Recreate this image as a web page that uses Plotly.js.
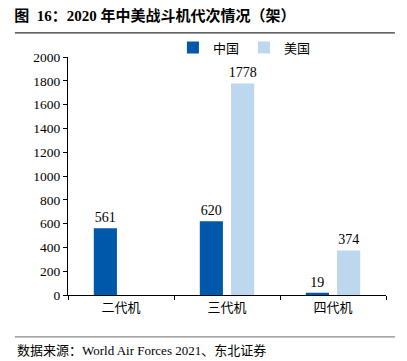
<!DOCTYPE html>
<html>
<head>
<meta charset="utf-8">
<script src="https://cdn.plot.ly/plotly-3.0.1.min.js"></script>
<style>html,body{margin:0;padding:0;background:#fff;}#chart{width:407px;height:361px;}</style>
</head>
<body>
<div id="chart"></div>
<script>
const categories = ['二代机', '三代机', '四代机'];
const chinaValues = [561, 620, 19];
const usValues = [null, 1778, 374];
const seriesNames = ['中国', '美国'];
const yTicks = [0, 200, 400, 600, 800, 1000, 1200, 1400, 1600, 1800, 2000];

const FONT = '"Liberation Serif", "Times New Roman", "Noto Sans CJK SC", serif';

const traces = [
  {
    type: 'bar', name: seriesNames[0], x: categories, y: chinaValues,
    marker: {color: '#0058AA'},
    text: chinaValues.map(v => v == null ? '' : String(v)),
    textposition: 'outside', cliponaxis: false, constraintext: 'none',
    textfont: {family: FONT, size: 14, color: '#000'}
  },
  {
    type: 'bar', name: seriesNames[1], x: categories, y: usValues,
    marker: {color: '#BDD7EE'},
    text: usValues.map(v => v == null ? '' : String(v)),
    textposition: 'outside', cliponaxis: false, constraintext: 'none',
    textfont: {family: FONT, size: 14, color: '#000'}
  }
];

const layout = {
  width: 407, height: 361,
  margin: {l: 68, r: 21, t: 57, b: 66},
  paper_bgcolor: '#fff', plot_bgcolor: '#fff',
  font: {family: FONT, size: 13, color: '#000'},
  barmode: 'group', bargap: 0.41, bargroupgap: 0.26,
  showlegend: true,
  legend: {orientation: 'h', x: 0.33, xanchor: 'left', y: 1.04, yanchor: 'middle',
           font: {family: FONT, size: 13}, itemwidth: 30, tracegroupgap: 0, bgcolor: 'rgba(0,0,0,0)'},
  title: {text: '<b>图  16：2020 年中美战斗机代次情况（架）</b>', x: 0.035, xanchor: 'left', xref: 'container',
          y: 0.955, yref: 'container', yanchor: 'middle', font: {family: FONT, size: 15, color: '#000'}},
  xaxis: {type: 'category', showline: true, linecolor: '#000', linewidth: 1,
          ticks: 'outside', tickson: 'boundaries', ticklen: 4, tickcolor: '#000',
          showgrid: false, zeroline: false, tickfont: {family: FONT, size: 13}},
  yaxis: {range: [0, 2000], tickvals: yTicks, showline: true, linecolor: '#000', linewidth: 1,
          ticks: 'outside', ticklen: 4, tickcolor: '#000', showgrid: false, zeroline: false,
          tickfont: {family: FONT, size: 13.5}},
  shapes: [
    {type: 'line', xref: 'paper', yref: 'paper', x0: -0.167, x1: 1.028, y0: 1.101, y1: 1.101, line: {color: '#333', width: 1.3}},
    {type: 'line', xref: 'paper', yref: 'paper', x0: -0.167, x1: 1.028, y0: -0.176, y1: -0.176, line: {color: '#888', width: 1.3}}
  ],
  annotations: [
    {text: '数据来源：World Air Forces 2021、东北证券', xref: 'paper', yref: 'paper', x: -0.167, xanchor: 'left',
     y: -0.232, yanchor: 'middle', showarrow: false, font: {family: FONT, size: 13, color: '#000'}}
  ]
};

Plotly.newPlot('chart', traces, layout, {displayModeBar: false, staticPlot: true});
</script>
</body>
</html>
